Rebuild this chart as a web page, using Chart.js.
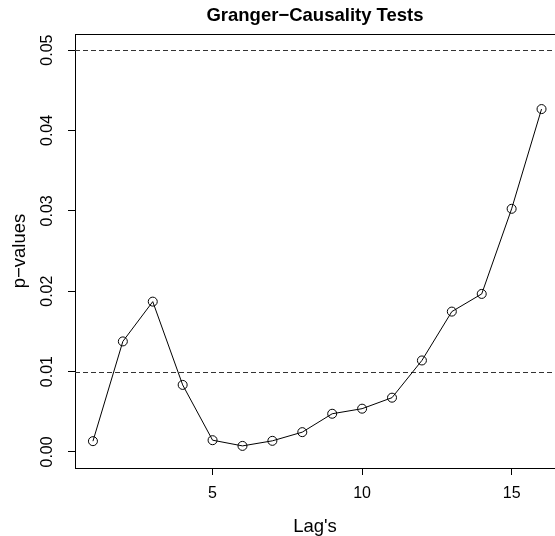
<!DOCTYPE html>
<html>
<head>
<meta charset="utf-8">
<script src="https://cdn.jsdelivr.net/npm/chart.js@4/dist/chart.umd.min.js"></script>
<style>
  html, body { margin: 0; padding: 0; background: #ffffff; overflow: hidden; }
  #wrap { width: 555px; height: 536px; position: relative; }
</style>
</head>
<body>
<div id="wrap"><canvas id="c" width="555" height="536"></canvas></div>
<script>
// ---- data ----
const lags = [1, 2, 3, 4, 5, 6, 7, 8, 9, 10, 11, 12, 13, 14, 15, 16];
const pValues = [0.00134, 0.01375, 0.0187, 0.00834, 0.00146, 0.00075, 0.00138, 0.00246,
                 0.00475, 0.00538, 0.00675, 0.01138, 0.01746, 0.01966, 0.03025, 0.04266];
const xTickValues = [5, 10, 15];
const yTickValues = [0, 0.01, 0.02, 0.03, 0.04, 0.05];
const yTickLabels = ["0.00", "0.01", "0.02", "0.03", "0.04", "0.05"];
const refLevels = [0.01, 0.05];
const titleText = "Granger\u2212Causality Tests";
const xTitle = "Lag's";
const yTitle = "p\u2212values";

const FONT = "'Liberation Sans', Arial, Helvetica, sans-serif";

const points = lags.map((l, i) => ({ x: l, y: pValues[i] }));

const framePlugin = {
  id: 'frame',
  beforeDatasetsDraw(chart) {
    const { ctx, chartArea: a, scales } = chart;
    const ys = scales.y;
    ctx.save();
    ctx.strokeStyle = '#333333';
    ctx.lineWidth = 1;
    ctx.setLineDash([5, 3]);
    refLevels.forEach(v => {
      const py = Math.round(ys.getPixelForValue(v)) + 0.5;
      ctx.beginPath();
      ctx.moveTo(a.left, py);
      ctx.lineTo(chart.width, py);
      ctx.stroke();
    });
    ctx.restore();
  },
  afterDraw(chart) {
    const { ctx, chartArea: a, scales } = chart;
    ctx.save();
    ctx.strokeStyle = '#000000';
    ctx.lineWidth = 1;
    ctx.beginPath();
    ctx.moveTo(a.left, Math.round(a.top) + 0.5);
    ctx.lineTo(chart.width, Math.round(a.top) + 0.5);
    ctx.stroke();
    ctx.fillStyle = '#000000';
    ctx.font = '16px ' + FONT;
    ctx.textAlign = 'center';
    ctx.textBaseline = 'middle';
    yTickValues.forEach((v, i) => {
      const py = scales.y.getPixelForValue(v);
      ctx.save();
      ctx.translate(48, py);
      ctx.rotate(-Math.PI / 2);
      ctx.fillText(yTickLabels[i], 0, 0);
      ctx.restore();
    });
    ctx.restore();
  }
};

new Chart(document.getElementById('c'), {
  type: 'line',
  data: {
    datasets: [{
      data: points,
      borderColor: '#000000',
      borderWidth: 1,
      backgroundColor: 'rgba(0,0,0,0)',
      pointRadius: 4.5,
      pointBorderWidth: 1,
      pointBorderColor: '#000000',
      pointBackgroundColor: 'rgba(0,0,0,0)',
      tension: 0,
      fill: false,
      clip: false
    }]
  },
  options: {
    responsive: false,
    animation: false,
    events: [],
    layout: { autoPadding: false, padding: { left: 0, right: 0, top: 0, bottom: 0 } },
    plugins: {
      legend: { display: false },
      tooltip: { enabled: false },
      title: {
        display: true,
        fullSize: false,
        text: titleText,
        color: '#000000',
        font: { family: FONT, size: 18.5, weight: 'bold' },
        padding: { top: 5, bottom: 6.8 }
      }
    },
    scales: {
      x: {
        type: 'linear',
        min: 0.4,
        max: 16.45,
        afterBuildTicks(scale) { scale.ticks = xTickValues.map(v => ({ value: v })); },
        afterFit(scale) { scale.height = 68; scale.paddingLeft = 0; scale.paddingRight = 0; },
        grid: { drawOnChartArea: false, drawTicks: true, tickLength: 7, color: '#000000' },
        border: { display: true, color: '#000000', width: 1 },
        ticks: {
          color: '#000000',
          font: { family: FONT, size: 16 },
          padding: 9,
          maxRotation: 0,
          callback: v => String(v)
        },
        title: {
          display: true,
          text: xTitle,
          color: '#000000',
          font: { family: FONT, size: 18.5 },
          padding: { top: 0, bottom: -2 }
        }
      },
      y: {
        type: 'linear',
        min: -0.002,
        max: 0.052,
        afterBuildTicks(scale) { scale.ticks = yTickValues.map(v => ({ value: v })); },
        afterFit(scale) { scale.width = 75; scale.paddingTop = 0; scale.paddingBottom = 0; },
        grid: { drawOnChartArea: false, drawTicks: true, tickLength: 7, color: '#000000' },
        border: { display: true, color: '#000000', width: 1 },
        ticks: { display: false },
        title: {
          display: true,
          text: yTitle,
          color: '#000000',
          font: { family: FONT, size: 18.5 },
          padding: { top: 8.4, bottom: 0 }
        }
      }
    }
  },
  plugins: [framePlugin]
});
</script>
</body>
</html>
